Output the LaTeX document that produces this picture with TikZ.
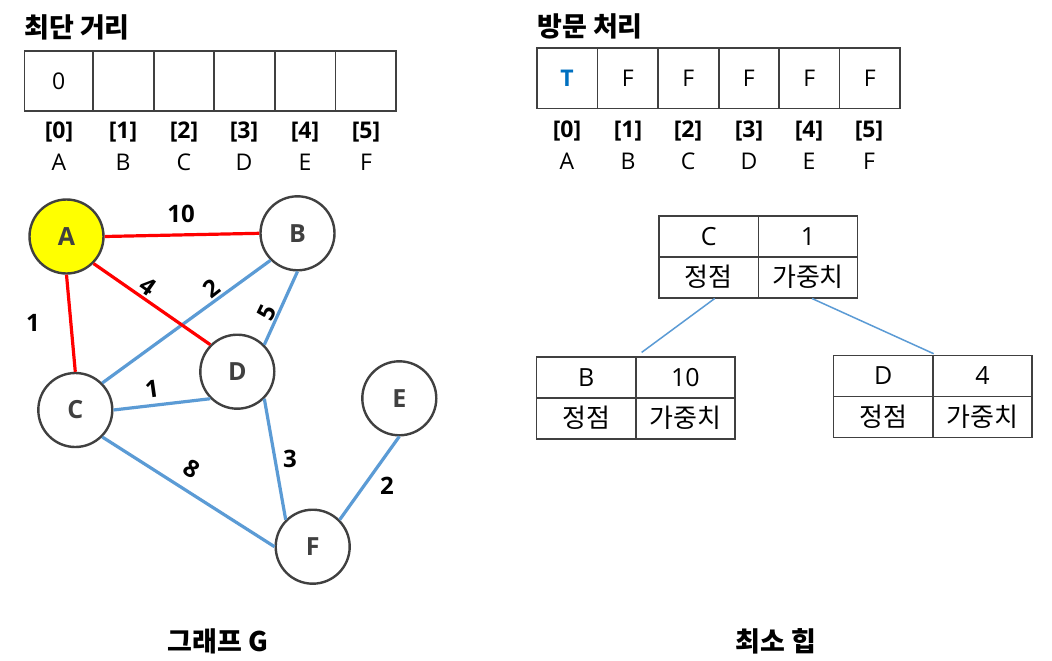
\documentclass[tikz,border=0pt]{standalone}
\usepackage{fontspec}
\setmainfont{Open Sans}
\newfontfamily\kr{Noto Sans CJK KR}
\definecolor{edgeblue}{HTML}{5B9BD5}
\definecolor{edgered}{HTML}{FF0000}
\definecolor{darkline}{HTML}{404040}
\definecolor{tblue}{HTML}{0070C0}
\definecolor{nodeyellow}{HTML}{FFFF00}
\tikzset{
  cell/.style={draw=darkline, line width=1.6pt, minimum height=60pt, inner sep=0pt, font=\fontsize{23}{25}\selectfont},
  hcell/.style={draw=darkline, line width=1.6pt, minimum height=41pt, minimum width=99.3pt, inner sep=0pt, font=\fontsize{25}{27}\selectfont},
  hkr/.style={hcell, font=\kr\fontsize{26}{28}\selectfont},
  idx/.style={inner sep=0pt, font=\bfseries\fontsize{23}{25}\selectfont},
  lett/.style={inner sep=0pt, font=\fontsize{23}{25}\selectfont},
  title/.style={inner sep=0pt, font=\kr\bfseries\fontsize{27}{29}\selectfont, anchor=west},
  vtx/.style={circle, draw=darkline, line width=2.4pt, fill=white, minimum size=74pt, inner sep=0pt, text=darkline, font=\bfseries\fontsize{25}{27}\selectfont},
  wlab/.style={inner sep=0pt, font=\bfseries\fontsize{24}{26}\selectfont},
  redge/.style={draw=edgered, line width=3.2pt},
  bedge/.style={draw=edgeblue, line width=3.2pt},
  hedge/.style={draw=edgeblue, line width=1.5pt},
}
\begin{document}
\begin{tikzpicture}[x=1pt,y=-1pt]
\useasboundingbox (0,0) rectangle (1052,661);
\fill[white] (0,0) rectangle (1052,661);

% ---- left array: shortest distance
\node[title] (t1) at (24,27) {최단 거리};
\node[cell, minimum width=69pt] (d0) at (58.8,80.8) {0};
\node[cell, minimum width=60.5pt] (d1) at (123.5,80.8) {};
\node[cell, minimum width=60.5pt] (d2) at (184,80.8) {};
\node[cell, minimum width=60.5pt] (d3) at (244.7,80.8) {};
\node[cell, minimum width=60.5pt] (d4) at (305.2,80.8) {};
\node[cell, minimum width=60.5pt] (d5) at (365.7,80.8) {};
\foreach \i/\x/\l in {0/59/A,1/123/B,2/184/C,3/244/D,4/305/E,5/366/F}{
  \node[idx] (di\i) at (\x,132) {[\i]};
  \node[lett] (dl\i) at (\x,162) {\l};
}

% ---- right array: visited
\node[title] (t2) at (537,26) {방문 처리};
\node[cell, minimum width=60.6pt, text=tblue, font=\bfseries\fontsize{23}{25}\selectfont] (v0) at (567,78.3) {T};
\node[cell, minimum width=60.6pt] (v1) at (627.7,78.3) {F};
\node[cell, minimum width=60.6pt] (v2) at (688.4,78.3) {F};
\node[cell, minimum width=60.6pt] (v3) at (748.9,78.3) {F};
\node[cell, minimum width=60.6pt] (v4) at (809.2,78.3) {F};
\node[cell, minimum width=60.6pt] (v5) at (869.7,78.3) {F};
\foreach \i/\x/\l in {0/567/A,1/628/B,2/688/C,3/749/D,4/809/E,5/869/F}{
  \node[idx] (vi\i) at (\x,131) {[\i]};
  \node[lett] (vl\i) at (\x,161) {\l};
}

% ---- graph
\node[vtx, fill=nodeyellow] (A) at (66.5,236.5) {A};
\node[vtx] (B) at (297.5,233.3) {B};
\node[vtx] (C) at (75.3,410) {C};
\node[vtx] (D) at (237.3,371.7) {D};
\node[vtx] (E) at (399.3,398.3) {E};
\node[vtx] (F) at (312.7,546.7) {F};

\path[bedge] (C.north east) -- (B.south west);
\path[bedge] (B.south) -- (D.north east);
\path[bedge] (C.east) -- (D.south west);
\path[bedge] (C.south east) -- (F.west);
\path[bedge] (D.south east) -- (F.north west);
\path[bedge] (E.south) -- (F.north east);
\path[redge] (A.east) -- (B.west);
\path[redge] (A.south east) -- (D.north west);
\path[redge] (A.south) -- (C.north);

\node[wlab] (wAB) at (181,214) {10};
\node[wlab, rotate=-35] (wAD) at (148,286) {4};
\node[wlab] (wAC) at (33,323) {1};
\node[wlab, rotate=38] (wCB) at (212,288) {2};
\node[wlab, rotate=64] (wBD) at (267,313) {5};
\node[wlab, rotate=8] (wCD) at (152,389) {1};
\node[wlab, rotate=-32] (wCF) at (192,469) {8};
\node[wlab] (wDF) at (290,459) {3};
\node[wlab] (wEF) at (387,486) {2};

\node[inner sep=0pt, font=\kr\bfseries\fontsize{27}{29}\selectfont] (g) at (218,641) {그래프 G};

% ---- min heap
\node[hcell] (rk) at (708.7,236.2) {C};
\node[hcell] (rw) at (808,236.2) {1};
\node[hkr] (rkl) at (708.7,277.2) {정점};
\node[hkr] (rwl) at (808,277.2) {가중치};

\node[hcell] (lk) at (586.2,377.2) {B};
\node[hcell] (lw) at (685.4,377.2) {10};
\node[hkr] (lkl) at (586.2,418.2) {정점};
\node[hkr] (lwl) at (685.4,418.2) {가중치};

\node[hcell] (qk) at (883.2,376) {D};
\node[hcell] (qw) at (982.4,376) {4};
\node[hkr] (qkl) at (883.2,417) {정점};
\node[hkr] (qwl) at (982.4,417) {가중치};

\coordinate (lt) at ([shift={(5,-3.5)}]lk.north east);
\coordinate (qt) at ([shift={(0,-1)}]qk.north east);
\draw[hedge] ([xshift=6pt]rkl.south) -- (lt);
\draw[hedge] ([xshift=4pt]rwl.south) -- (qt);

\node[inner sep=0pt, font=\kr\bfseries\fontsize{27}{29}\selectfont] (h) at (776,641) {최소 힙};
\end{tikzpicture}
\end{document}
